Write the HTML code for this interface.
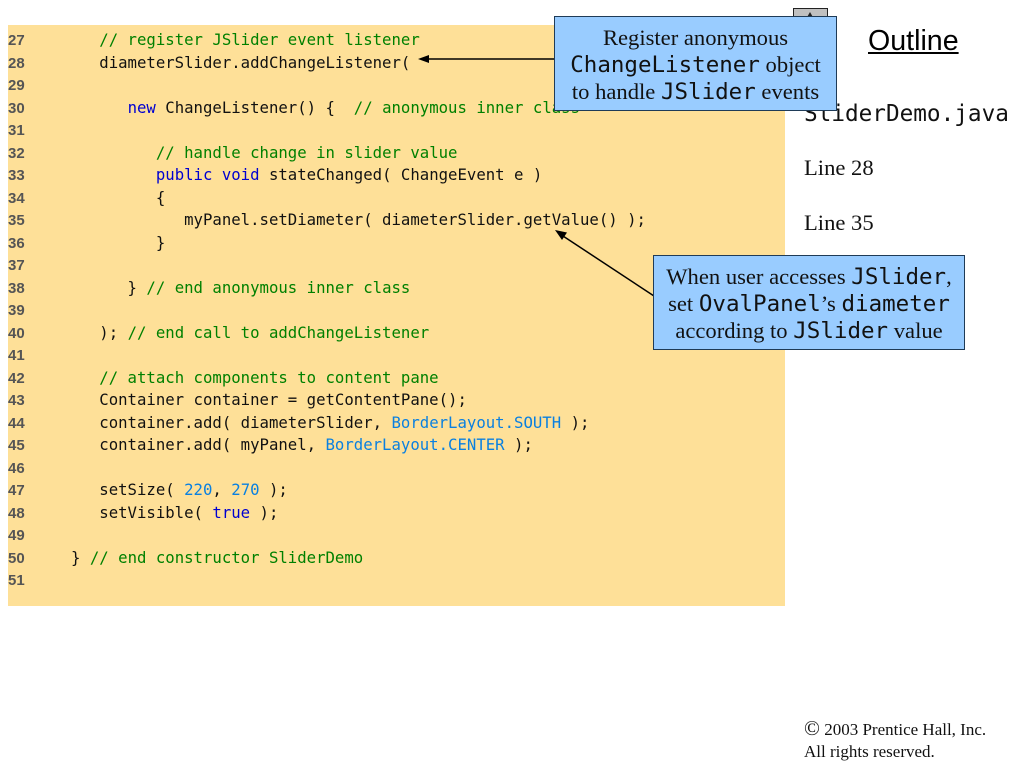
<!DOCTYPE html>
<html>
<head>
<meta charset="utf-8">
<style>
html,body{margin:0;padding:0;background:#fff}
#p{position:relative;width:1024px;height:768px;overflow:hidden;background:#fff}
.bg{position:absolute;left:8px;top:25px;width:777px;height:581px;background:#fee098}
.n{position:absolute;left:8px;margin-top:1px;font:bold 15px/22px "Liberation Sans",sans-serif;color:#555;white-space:pre}
.c{position:absolute;left:71px;font:15.66px/22px "DejaVu Sans Mono",monospace;color:#111;white-space:pre}
.g{color:#008000}.b{color:#0000d0}.l{color:#0a80e0}
.box{position:absolute;box-sizing:border-box;background:#99ccff;border:1px solid #1f3b57;text-align:center;font:22.6px/27px "Liberation Serif",serif;color:#111;white-space:nowrap}
.box span{font-family:"DejaVu Sans Mono",monospace;font-size:22.5px;line-height:0}
.t{position:absolute;font:22.6px/26px "Liberation Serif",serif;color:#111;white-space:pre}
</style>
</head>
<body>
<div id="p">
<div class="bg"></div>
<div class="n" style="top:29px">27</div><div class="c" style="top:29px">   <span class="g">// register JSlider event listener</span></div>
<div class="n" style="top:51.5px">28</div><div class="c" style="top:51.5px">   diameterSlider.addChangeListener(</div>
<div class="n" style="top:74px">29</div>
<div class="n" style="top:96.5px">30</div><div class="c" style="top:96.5px">      <span class="b">new</span> ChangeListener() {  <span class="g">// anonymous inner class</span></div>
<div class="n" style="top:119px">31</div>
<div class="n" style="top:141.5px">32</div><div class="c" style="top:141.5px">         <span class="g">// handle change in slider value</span></div>
<div class="n" style="top:164px">33</div><div class="c" style="top:164px">         <span class="b">public void</span> stateChanged( ChangeEvent e )</div>
<div class="n" style="top:186.5px">34</div><div class="c" style="top:186.5px">         {</div>
<div class="n" style="top:209px">35</div><div class="c" style="top:209px">            myPanel.setDiameter( diameterSlider.getValue() );</div>
<div class="n" style="top:231.5px">36</div><div class="c" style="top:231.5px">         }</div>
<div class="n" style="top:254px">37</div>
<div class="n" style="top:276.5px">38</div><div class="c" style="top:276.5px">      } <span class="g">// end anonymous inner class</span></div>
<div class="n" style="top:299px">39</div>
<div class="n" style="top:321.5px">40</div><div class="c" style="top:321.5px">   ); <span class="g">// end call to addChangeListener</span></div>
<div class="n" style="top:344px">41</div>
<div class="n" style="top:366.5px">42</div><div class="c" style="top:366.5px">   <span class="g">// attach components to content pane</span></div>
<div class="n" style="top:389px">43</div><div class="c" style="top:389px">   Container container = getContentPane();</div>
<div class="n" style="top:411.5px">44</div><div class="c" style="top:411.5px">   container.add( diameterSlider, <span class="l">BorderLayout.SOUTH</span> );</div>
<div class="n" style="top:434px">45</div><div class="c" style="top:434px">   container.add( myPanel, <span class="l">BorderLayout.CENTER</span> );</div>
<div class="n" style="top:456.5px">46</div>
<div class="n" style="top:479px">47</div><div class="c" style="top:479px">   setSize( <span class="l">220</span>, <span class="l">270</span> );</div>
<div class="n" style="top:501.5px">48</div><div class="c" style="top:501.5px">   setVisible( <span class="b">true</span> );</div>
<div class="n" style="top:524px">49</div>
<div class="n" style="top:546.5px">50</div><div class="c" style="top:546.5px">} <span class="g">// end constructor SliderDemo</span></div>
<div class="n" style="top:569px">51</div>

<svg style="position:absolute;left:0;top:0" width="1024" height="768">
<rect x="793.5" y="8.5" width="34" height="20" fill="#c0c0c0" stroke="#222"/>
<polygon points="810,12 806,19 814,19" fill="#222"/>
<line x1="428" y1="59" x2="556" y2="59" stroke="#000" stroke-width="1.5"/>
<polygon points="418,59 429,55 429,63" fill="#000"/>
<line x1="563" y1="236" x2="654" y2="296" stroke="#000" stroke-width="1.5"/>
<polygon points="555,230 567,232.5 562,240" fill="#000"/>
</svg>

<div class="t" style="left:804px;top:100px;line-height:27px;font-family:'DejaVu Sans Mono',monospace;font-size:22.7px;margin-top:1px">SliderDemo.java</div>

<div class="box" style="left:554px;top:16px;width:283px;height:95px;padding-top:7px">Register anonymous<br><span>ChangeListener</span> object<br>to handle <span>JSlider</span> events</div>

<div style="position:absolute;left:868px;top:25px;font:28.6px/32px 'Liberation Sans',sans-serif;color:#000;text-decoration:underline">Outline</div>
<div class="t" style="left:804px;top:155px">Line 28</div>
<div class="t" style="left:804px;top:210px">Line 35</div>

<div class="box" style="left:653px;top:255px;width:312px;height:95px;padding-top:7px">When user accesses <span>JSlider</span>,<br>set <span>OvalPanel</span>’s <span>diameter</span><br>according to <span>JSlider</span> value</div>

<div style="position:absolute;left:804px;top:719px;font:17px/22px 'Liberation Serif',serif;color:#111;white-space:pre"><span style="font-size:21px;line-height:0">©</span> 2003 Prentice Hall, Inc.
All rights reserved.</div>
</div>
</body>
</html>
